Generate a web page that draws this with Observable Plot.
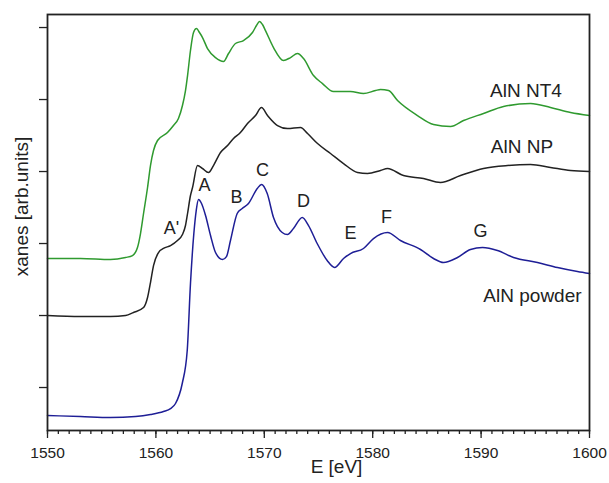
<!DOCTYPE html>
<html><head><meta charset="utf-8">
<script src="https://cdn.jsdelivr.net/npm/d3@7"></script>
<script src="https://cdn.jsdelivr.net/npm/@observablehq/plot@0.6"></script>
<style>body{margin:0;background:#fff;}</style>
</head><body><div id="chart"></div>
<script>
// AlN NT4 (green)
const energyNT4 = [1550,1553.04,1555.81,1557.2,1557.84,1558.3,1558.58,1558.86,1559.23,1559.5,1559.78,1560.15,1561.07,1561.62,1562.08,1562.45,1562.73,1562.92,1563.19,1563.47,1563.75,1564.02,1564.3,1564.76,1565.5,1566.24,1566.7,1567.34,1568.08,1568.91,1569.28,1569.56,1569.83,1570.11,1570.85,1571.77,1572.42,1573.06,1573.62,1574.54,1575.37,1576.38,1577.95,1579.15,1580.26,1580.72,1581.46,1582.29,1584.13,1585.61,1587.18,1588.38,1590.22,1592.07,1594.56,1596.4,1598.25,1600];
const xanesNT4 = [1.792,1.792,1.778,1.806,1.833,1.944,2.139,2.417,2.778,3.083,3.292,3.431,3.542,3.639,3.736,3.917,4.125,4.333,4.681,4.931,4.986,4.931,4.861,4.708,4.583,4.528,4.639,4.778,4.819,4.931,5.028,5.083,5.042,4.958,4.722,4.542,4.583,4.639,4.569,4.333,4.222,4.111,4.111,4.083,4.125,4.139,4.125,3.986,3.778,3.653,3.625,3.708,3.806,3.903,3.944,3.889,3.819,3.778];
// AlN NP (black)
const energyNP = [1550,1553.04,1555.81,1557.2,1557.93,1558.86,1559.23,1559.5,1559.78,1560.24,1560.7,1561.35,1561.99,1562.45,1562.73,1562.92,1563.19,1563.38,1563.84,1564.3,1564.85,1565.31,1565.96,1566.61,1567.16,1567.8,1568.45,1569.19,1569.74,1570.3,1571.22,1572.14,1573.34,1573.99,1574.91,1576.11,1577.31,1578.6,1579.52,1580.72,1581.37,1582.84,1584.69,1586.25,1588.1,1590.22,1592.44,1594.56,1596.4,1598.25,1600];
const xanesNP = [1.0,0.986,0.986,1.0,1.042,1.111,1.25,1.458,1.694,1.875,1.931,1.972,2.042,2.125,2.25,2.417,2.667,2.778,3.083,3.042,2.986,3.083,3.264,3.361,3.458,3.542,3.667,3.778,3.889,3.778,3.639,3.597,3.611,3.528,3.389,3.25,3.111,2.986,2.972,3.014,3.042,2.944,2.903,2.847,2.944,3.042,3.083,3.097,3.056,3.014,3.0];
// AlN powder (blue)
const energyPowder = [1550,1553.04,1555.81,1558.12,1559.5,1560.7,1561.35,1561.81,1562.43,1562.89,1563.19,1563.5,1563.72,1563.93,1564.21,1564.58,1565.04,1565.5,1566.14,1566.51,1566.88,1567.5,1567.96,1568.54,1569.35,1569.74,1570.27,1570.85,1571.65,1572.14,1572.69,1573.5,1574.08,1574.88,1575.8,1576.48,1577.31,1577.95,1579.15,1580.07,1581.37,1582.56,1584.41,1585.61,1586.53,1587.82,1589.02,1590.13,1591.51,1592.99,1595.2,1597.05,1598.89,1600];
const xanesPowder = [-0.389,-0.403,-0.417,-0.403,-0.375,-0.333,-0.292,-0.222,0.056,0.514,1.444,2.139,2.458,2.611,2.556,2.389,2.111,1.875,1.778,1.819,2.042,2.417,2.486,2.556,2.764,2.819,2.694,2.361,2.153,2.125,2.208,2.361,2.25,2.0,1.764,1.667,1.792,1.861,1.931,2.069,2.153,2.042,1.917,1.792,1.736,1.806,1.917,1.944,1.903,1.806,1.736,1.667,1.611,1.583];

const seriesNames = ["AlN NT4", "AlN NP", "AlN powder"];
const seriesColors = ["#2f9a2f", "#222222", "#1e1e96"];
const labelEnergy = [1594.14, 1593.77, 1594.74];
const labelXanes = [4.125, 3.347, 1.278];

const peakNames = ["A'", "A", "B", "C", "D", "E", "F", "G"];
const peakEnergy = [1561.44, 1564.48, 1567.44, 1569.83, 1573.62, 1577.95, 1581.27, 1589.94];
const peakXanes = [2.208, 2.806, 2.639, 3.014, 2.583, 2.139, 2.361, 2.167];

const xMajorTicks = [1550, 1560, 1570, 1580, 1590, 1600];
const xMinorTicks = d3.range(1550, 1601, 1);
const yTicks = [0, 1, 2, 3, 4, 5];

const energies = [energyNT4, energyNP, energyPowder];
const values = [xanesNT4, xanesNP, xanesPowder];
const rows = [];
seriesNames.forEach((s, i) => energies[i].forEach((e, j) => rows.push({series: s, E: e, v: values[i][j]})));
const seriesLabels = seriesNames.map((s, i) => ({series: s, E: labelEnergy[i], v: labelXanes[i]}));
const peaks = peakNames.map((p, i) => ({name: p, E: peakEnergy[i], v: peakXanes[i]}));

const chart = Plot.plot({
  width: 609, height: 483,
  marginTop: 14, marginRight: 20, marginBottom: 53, marginLeft: 47,
  style: {fontFamily: "'Liberation Sans', Arial, sans-serif", fontSize: "15px", color: "#222", background: "#fff"},
  x: {domain: [1550, 1600]},
  y: {domain: [-0.597, 5.181]},
  color: {domain: seriesNames, range: seriesColors},
  marks: [
    Plot.line(rows, {x: "E", y: "v", z: "series", stroke: "series", strokeWidth: 1.5, curve: "monotone-x"}),
    Plot.axisX(xMinorTicks, {tickSize: 4, tickFormat: () => "", label: null, stroke: "#222", strokeWidth: 1.3}),
    Plot.axisX(xMajorTicks, {tickSize: 8, tickPadding: 8, tickFormat: d => String(d), label: null, stroke: "#222", strokeWidth: 1.3, fill: "#222", fontSize: 15.5}),
    Plot.axisY(yTicks, {tickSize: 8, tickFormat: () => "", label: null, stroke: "#222", strokeWidth: 1.3}),
    Plot.frame({stroke: "#222", strokeWidth: 1.8}),
    Plot.text(seriesLabels, {x: "E", y: "v", text: "series", fontSize: 19, fill: "#222"}),
    Plot.text(peaks, {x: "E", y: "v", text: "name", fontSize: 18, fill: "#222"}),
    Plot.text(["xanes [arb.units]"], {frameAnchor: "left", textAnchor: "middle", dx: -26, dy: -16, rotate: -90, fontSize: 19, fill: "#222"}),
    Plot.text(["E [eV]"], {frameAnchor: "bottom", dx: 18, dy: 42, fontSize: 19, fill: "#222"})
  ]
});
document.getElementById("chart").appendChild(chart);
</script>
</body></html>
